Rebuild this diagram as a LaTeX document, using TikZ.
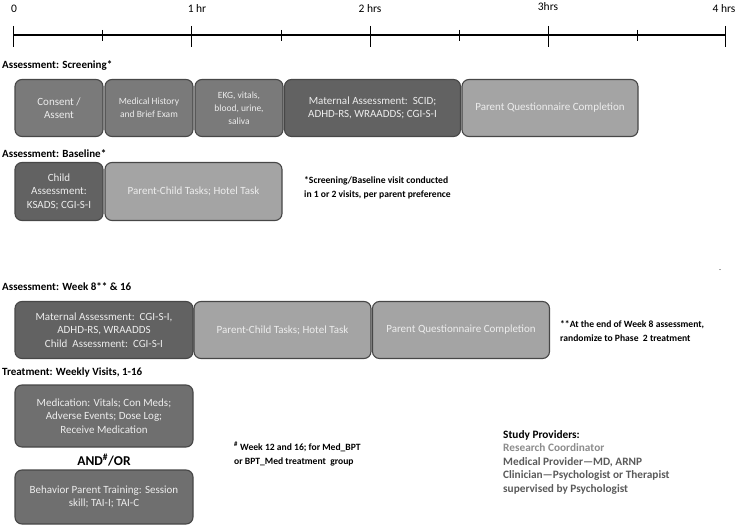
\documentclass[tikz,border=0pt]{standalone}
\usepackage{fontspec}
\setmainfont{Carlito}
\usetikzlibrary{positioning}

\definecolor{boxline}{HTML}{474747}
\definecolor{boxtext}{HTML}{EDEDED}
\definecolor{darkfill}{HTML}{626262}
\definecolor{midfill}{HTML}{7A7A7A}
\definecolor{treatfill}{HTML}{6F6F6F}
\definecolor{lightfill}{HTML}{A4A4A4}
\definecolor{provgrey}{HTML}{8C8C8C}
\definecolor{provdark}{HTML}{5A5A5A}

\tikzset{
  stage/.style={draw=boxline, line width=1.1pt, rounded corners=7pt, text=boxtext,
    align=center, inner sep=2pt, font=\fontsize{11}{13.5}\selectfont},
  smalltext/.style={font=\fontsize{9.5}{13}\selectfont},
  section/.style={anchor=west, inner sep=0pt, font=\bfseries\fontsize{11}{13}\selectfont},
  footnote/.style={anchor=west, align=left, inner sep=0pt, font=\bfseries\fontsize{9.6}{14}\selectfont},
  hourlabel/.style={inner sep=0pt, font=\fontsize{11.5}{13}\selectfont}
}

\begin{document}
\begin{tikzpicture}[x=1pt, y=-1pt]

    \useasboundingbox (0,0) rectangle (741,529);

    % time axis
    \draw [line width=1.2pt] (13,35) -- (725,35);
    \foreach \x in {13,191.,370,548,725}
        \draw [line width=0.8pt] (\x,26) -- (\x,47);
    \foreach \x in {102,281,459,637}
        \draw [line width=0.6pt] (\x,30) -- (\x,41);

    \node (hr0) [hourlabel] at (14,9) {0};
    \node (hr1) [hourlabel] at (197,9) {1 hr};
    \node (hr2) [hourlabel] at (370,9) {2 hrs};
    \node (hr3) [hourlabel] at (548,7) {3hrs};
    \node (hr4) [hourlabel] at (724,9) {4 hrs};

    % screening
    \node (lblscreen) [section] at (2,66) {Assessment: Screening*};

    \node (consent) [stage, fill=midfill, minimum width=88pt, minimum height=57pt] at (59,108) {Consent /\\Assent};
    \node (history) [stage, smalltext, fill=midfill, minimum width=88pt, minimum height=57pt] at (149,108) {Medical History\\and Brief Exam};
    \node (vitals) [stage, smalltext, fill=midfill, minimum width=88pt, minimum height=57pt] at (239,108) {EKG, vitals,\\blood, urine,\\saliva};
    \node (maternal) [stage, fill=darkfill, minimum width=176pt, minimum height=57pt] at (372.5,108) {Maternal Assessment:\ \ SCID;\\ADHD-RS, WRAADDS; CGI-S-I};
    \node (questions) [stage, fill=lightfill, minimum width=176pt, minimum height=57pt] at (550,108) {Parent Questionnaire Completion};

    % baseline
    \node (lblbase) [section] at (2,154) {Assessment: Baseline*};

    \node (child) [stage, fill=darkfill, minimum width=88pt, minimum height=58pt] at (59,191.5) {Child\\Assessment:\\KSADS; CGI-S-I};
    \node (tasks) [stage, fill=lightfill, minimum width=177pt, minimum height=58pt] at (193.5,191.5) {Parent-Child Tasks; Hotel Task};

    \node (notebase) [footnote] at (304,188) {*Screening/Baseline visit conducted\\in 1 or 2 visits, per parent preference};

    % week 8 and 16
    \node (lblweek) [section] at (2,287) {Assessment: Week 8** \& 16};

    \node (weekmat) [stage, fill=darkfill, minimum width=178pt, minimum height=57pt] at (104,330) {Maternal Assessment:\ \ CGI-S-I,\\ADHD-RS, WRAADDS\\Child\ \ Assessment:\ \ CGI-S-I};
    \node (weektasks) [stage, fill=lightfill, minimum width=177pt, minimum height=57pt] at (282.5,330) {Parent-Child Tasks; Hotel Task};
    \node (weekquest) [stage, fill=lightfill, minimum width=177pt, minimum height=57pt] at (461,330) {Parent Questionnaire Completion};

    \node (noteweek) [footnote] at (560,331) {**At the end of Week 8 assessment,\\randomize to Phase\ \ 2 treatment};
    \node (dot) [inner sep=0pt, font=\fontsize{8}{8}\selectfont] at (720,270) {.};

    % treatment
    \node (lbltreat) [section] at (2,373) {Treatment: Weekly Visits, 1-16};

    \node (meds) [stage, fill=treatfill, minimum width=178pt, minimum height=62pt] at (104,416) {Medication: Vitals; Con Meds;\\Adverse Events; Dose Log;\\Receive Medication};
    \node (andor) [font=\bfseries\fontsize{13.5}{15}\selectfont, inner sep=0pt] at (104,460) {AND\textsuperscript{\#}/OR};
    \node (training) [stage, fill=treatfill, minimum width=178pt, minimum height=54pt] at (104,497) {Behavior Parent Training: Session\\skill; TAI-I; TAI-C};

    \node (notetreat) [footnote] at (234,454) {\textsuperscript{\#} Week 12 and 16; for Med\_BPT\\or BPT\_Med treatment\ \ group};

    % providers
    \node (providers) [anchor=north west, align=left, inner sep=0pt, font=\bfseries\fontsize{11.3}{13.5}\selectfont] at (503,430)
        {Study Providers:\\
         \textcolor{provgrey}{Research Coordinator}\\
         \textcolor{provdark}{Medical Provider---MD, ARNP}\\
         \textcolor{provdark}{Clinician---Psychologist or Therapist}\\
         \textcolor{provdark}{supervised by Psychologist}};

\end{tikzpicture}
\end{document}
